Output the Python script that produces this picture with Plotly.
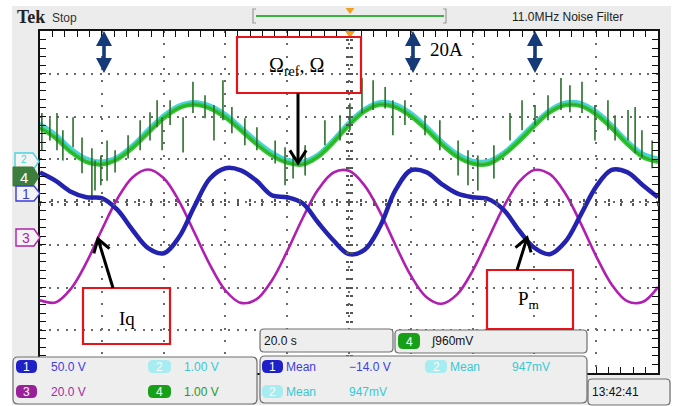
import math
import plotly.graph_objects as go

W, H = 685, 406

# ---------------- acquisition data (20 s/div, 10 div; values in screen divisions) ----------------
t_s = [0, 5, 10, 15, 20, 25, 30, 35, 40, 45, 50, 55, 60, 65, 70, 75, 80, 85, 90, 95, 100,
       105, 110, 115, 120, 125, 130, 135, 140, 145, 150, 155, 160, 165, 170, 175, 180, 185,
       190, 195, 200]

# CH4 : measured speed (Omega)
ch4_speed = [1.74, 1.50, 1.17, 0.94, 0.88, 1.00, 1.27, 1.62, 1.96, 2.20, 2.28, 2.19, 1.98,
             1.68, 1.36, 1.09, 0.92, 0.88, 1.06, 1.40, 1.80, 2.12, 2.28, 2.22, 2.01, 1.70,
             1.35, 1.06, 0.90, 0.89, 1.10, 1.42, 1.78, 2.10, 2.27, 2.25, 2.05, 1.73, 1.36,
             1.06, 0.94]

# CH2 : speed reference (Omega_ref)
ch2_speed_ref = [1.84, 1.60, 1.27, 1.03, 0.96, 1.07, 1.35, 1.71, 2.04, 2.27, 2.35, 2.27, 2.07,
                 1.77, 1.45, 1.18, 1.00, 0.96, 1.13, 1.48, 1.88, 2.19, 2.35, 2.30, 2.10, 1.79,
                 1.44, 1.15, 0.98, 0.97, 1.17, 1.50, 1.86, 2.17, 2.34, 2.33, 2.14, 1.82, 1.45,
                 1.15, 1.03]

# CH1 : q-axis current Iq
ch1_iq = [0.69, 0.50, 0.24, 0.11, 0.09, -0.18, -0.66, -1.08, -1.20, -0.82, -0.10, 0.55, 0.79,
          0.74, 0.50, 0.16, 0.11, -0.03, -0.48, -0.90, -1.22, -1.12, -0.58, 0.27, 0.74, 0.70,
          0.42, 0.20, 0.11, 0.07, -0.18, -0.66, -1.07, -1.22, -0.93, -0.30, 0.36, 0.75, 0.70,
          0.40, 0.11]

# CH3 : mechanical power Pm
ch3_pm = [-2.30, -2.35, -2.03, -1.42, -0.65, 0.07, 0.58, 0.76, 0.56, 0.02, -0.72, -1.47, -2.07,
          -2.36, -2.28, -1.84, -1.15, -0.38, 0.29, 0.69, 0.73, 0.39, -0.23, -1.00, -1.72, -2.22,
          -2.38, -2.16, -1.61, -0.87, -0.12, 0.47, 0.75, 0.65, 0.20, -0.50, -1.27, -1.93, -2.32,
          -2.34, -1.99]

# CH4 noise glitches: time [s], lower and upper excursion [div]
glitch_t = [0.6, 3.2, 5.5, 7.4, 10.7, 13.6, 16.8, 17.8, 19.7, 21.7, 24.3, 28.5, 32.4, 35.6,
            37.9, 39.5, 42.1, 46.3, 49.5, 53.4, 56.3, 59.2, 62.1, 66.3, 70.2, 76.1, 79.3,
            81.9, 85.8, 92.2, 97.1, 100.3, 104.2, 107.8, 111.7, 114.2, 118.1, 124.6, 129.4,
            135.3, 138.5, 141.7, 146.9, 152.1, 156.0, 160.2, 164.4, 168.6, 171.5, 175.4,
            179.6, 183.8, 186.1, 190.3, 192.6, 194.8, 198.1]
glitch_lo = [1.21, 1.44, 1.21, 0.97, 1.28, 0.67, 0.04, 0.27, 0.39, 0.50, 0.69, 1.02, 1.21, 1.44,
             1.75, 1.21, 1.80, 1.16, 2.08, 1.96, 1.44, 1.91, 1.61, 1.33, 1.21, 0.90, 0.39,
             0.55, 0.62, 1.33, 1.44, 1.68, 2.08, 2.15, 2.19, 1.56, 1.80, 1.56, 1.21,
             0.62, 0.39, 0.27, 0.55, 1.44, 1.68, 1.80, 1.91, 2.15, 2.10, 2.08,
             1.44, 1.68, 1.44, 1.44, 1.14, 1.04, 0.79]
glitch_hi = [2.08, 1.96, 2.08, 1.68, 1.98, 1.51, 1.26, 0.97, 1.09, 1.44, 1.21, 1.56, 1.91, 2.10,
             2.38, 1.98, 2.38, 1.98, 2.81, 2.50, 2.27, 2.85, 2.22, 1.96, 1.75, 1.44, 1.28,
             1.09, 1.33, 1.91, 2.03, 2.31, 2.90, 2.85, 2.69, 2.38, 2.38, 2.03, 1.91,
             1.44, 1.21, 1.09, 1.33, 2.08, 2.38, 2.27, 2.50, 2.90, 2.73, 2.81,
             2.27, 2.38, 2.03, 2.15, 2.22, 1.68, 1.44]

# readout texts
scale_labels = ["50.0 V", "1.00 V", "20.0 V", "1.00 V"]
timebase_label = "20.0 s"
trigger_label = "\u222B960mV"
meas_labels = ["Mean", "\u221214.0 V", "947mV", "947mV"]
clock_label = "13:42:41"
header_labels = ["Tek", "Stop", "11.0MHz Noise Filter"]

# ---------------- colours ----------------
C_BLUE = "#2323b0"
C_MAG = "#b01fb0"
C_GRN = "#2fc62f"
C_GRN_D = "#2a6f2a"
C_CYAN = "#48d3dd"
NAVY = "#163a78"
RED = "#e5131a"
NARROW = "Liberation Sans Narrow, Arial Narrow, Liberation Sans, sans-serif"
SERIF = "Liberation Serif, Times New Roman, serif"


def X(px):
    return px / W


def Y(py):
    return 1 - py / H


def poly(points, close=True, **kw):
    d = "M" + "L".join(f"{X(x):.5f},{Y(y):.5f}" for x, y in points) + ("Z" if close else "")
    return dict(type="path", xref="paper", yref="paper", path=d, **kw)


def rrect(x0, y0, x1, y1, r, **kw):
    def p(x, y):
        return f"{X(x):.5f},{Y(y):.5f}"
    d = (f"M{p(x0 + r, y0)}L{p(x1 - r, y0)}Q{p(x1, y0)} {p(x1, y0 + r)}"
         f"L{p(x1, y1 - r)}Q{p(x1, y1)} {p(x1 - r, y1)}L{p(x0 + r, y1)}"
         f"Q{p(x0, y1)} {p(x0, y1 - r)}L{p(x0, y0 + r)}Q{p(x0, y0)} {p(x0 + r, y0)}Z")
    return dict(type="path", xref="paper", yref="paper", path=d, **kw)


def rect(x0, y0, x1, y1, **kw):
    return dict(type="rect", xref="paper", yref="paper",
                x0=X(x0), x1=X(x1), y0=Y(y1), y1=Y(y0), **kw)


def seg(x0, y0, x1, y1, color, width, layer="above"):
    return dict(type="line", xref="paper", yref="paper", x0=X(x0), y0=Y(y0),
                x1=X(x1), y1=Y(y1), line=dict(color=color, width=width), layer=layer)


def text(x, y, s, size=12, color="black", family=NARROW, xanchor="left", **kw):
    return dict(x=X(x), y=Y(y), xref="paper", yref="paper", text=s, showarrow=False,
                xanchor=xanchor, yanchor="middle", font=dict(size=size, color=color, family=family), **kw)


def pointer(tail, tip, arm=15, ang=33):
    dx, dy = tail[0] - tip[0], tail[1] - tip[1]
    L = math.hypot(dx, dy)
    ux, uy = dx / L, dy / L
    out = [seg(tail[0], tail[1], tip[0], tip[1], "black", 3)]
    pts = []
    for s in (1, -1):
        a = math.radians(ang) * s
        rx = ux * math.cos(a) - uy * math.sin(a)
        ry = ux * math.sin(a) + uy * math.cos(a)
        pts.append((tip[0] + arm * rx, tip[1] + arm * ry))
    out.append(poly([pts[0], tip, pts[1]], close=False, line=dict(color="black", width=3), layer="above"))
    return out


fig = go.Figure()

# CH2 / CH4 speed traces
fig.add_trace(go.Scatter(x=t_s, y=ch2_speed_ref, mode="lines", line=dict(color=C_CYAN, width=3, shape="spline"),
                         hoverinfo="skip"))
fig.add_trace(go.Scatter(x=t_s, y=ch4_speed, mode="lines", line=dict(color=C_GRN, width=4.5, shape="spline"),
                         hoverinfo="skip"))
fig.add_trace(go.Scatter(x=t_s, y=ch4_speed, mode="lines", line=dict(color=C_GRN_D, width=1, shape="spline"),
                         opacity=0.45, hoverinfo="skip"))
gx, gy = [], []
for tt, lo, hi in zip(glitch_t, glitch_lo, glitch_hi):
    gx += [tt, tt, None]
    gy += [lo, hi, None]
fig.add_trace(go.Scatter(x=gx, y=gy, mode="lines", line=dict(color=C_GRN_D, width=1.6),
                         connectgaps=False, hoverinfo="skip"))
# CH3 and CH1
fig.add_trace(go.Scatter(x=t_s, y=ch3_pm, mode="lines", line=dict(color=C_MAG, width=2.6, shape="spline"),
                         hoverinfo="skip"))
fig.add_trace(go.Scatter(x=t_s, y=ch1_iq, mode="lines", line=dict(color=C_BLUE, width=4.5, shape="spline"),
                         hoverinfo="skip"))

# helper traces so the centre-line tick axes get drawn
for xa, ya in (("x2", "y"), ("x3", "y"), ("x", "y2"), ("x", "y3")):
    fig.add_trace(go.Scatter(x=[100], y=[0], xaxis=xa, yaxis=ya, mode="markers",
                             marker=dict(opacity=0), hoverinfo="skip"))

XDOM = [40 / W, 658 / W]
YDOM = [1 - 373 / H, 1 - 31 / H]
XC = (XDOM[0] + XDOM[1]) / 2
YC = (YDOM[0] + YDOM[1]) / 2

frame = dict(showline=True, linecolor="#111111", linewidth=2, mirror="allticks",
             ticks="inside", ticklen=6, tickwidth=1.4, tickcolor="#111111",
             showticklabels=False, zeroline=False, showgrid=True,
             gridcolor="#6a6a6a", gridwidth=2, fixedrange=True)

center_tick = dict(showline=False, showgrid=False, zeroline=False, showticklabels=False,
                   ticklen=3, tickwidth=2, tickcolor="#555555", fixedrange=True)

fig.update_layout(
    width=W, height=H, autosize=False,
    margin=dict(l=0, r=0, t=0, b=0),
    paper_bgcolor="white", plot_bgcolor="white",
    showlegend=False, hovermode=False,
    xaxis=dict(range=[0, 200], domain=XDOM, dtick=20, tick0=0, griddash="2px,10.36px",
               minor=dict(dtick=4, ticks="inside", ticklen=4, tickcolor="#111111", tickwidth=1.2, showgrid=False),
               **frame),
    yaxis=dict(range=[-4, 4], domain=YDOM, dtick=1, tick0=0, griddash="2px,6.55px",
               minor=dict(dtick=0.2, ticks="inside", ticklen=4, tickcolor="#111111", tickwidth=1.2, showgrid=False),
               **frame),
    xaxis2=dict(range=[0, 200], overlaying="x", anchor="free", position=YC, dtick=4, ticks="outside", **center_tick),
    xaxis3=dict(range=[0, 200], overlaying="x", anchor="free", position=YC, dtick=4, ticks="inside", **center_tick),
    yaxis2=dict(range=[-4, 4], overlaying="y", anchor="free", position=XC, dtick=0.2, ticks="outside", **center_tick),
    yaxis3=dict(range=[-4, 4], overlaying="y", anchor="free", position=XC, dtick=0.2, ticks="inside", **center_tick),
)

shapes = []
# instrument screen background and graticule area
shapes.append(rect(12, 6, 671, 405, fillcolor="#ececec", line=dict(width=0), layer="below"))
shapes.append(rect(40, 31, 658, 373, fillcolor="white", line=dict(width=0), layer="below"))

# record-length bar in the header
shapes.append(poly([(256, 9), (253, 9), (253, 23), (256, 23)], close=False, line=dict(color="#9a9a9a", width=1.2)))
shapes.append(poly([(443, 9), (446, 9), (446, 23), (443, 23)], close=False, line=dict(color="#9a9a9a", width=1.2)))
shapes.append(seg(256, 16, 444, 16, "#3cb043", 2))
shapes.append(poly([(345.5, 8), (354.5, 8), (350, 14)], fillcolor="#f0a020", line=dict(width=0), layer="above"))
# trigger position marker on the graticule
shapes.append(poly([(345, 31), (355, 31), (350, 38)], fillcolor="#f0a020", line=dict(width=0), layer="above"))


def pent(x0, y0, x1, y1, **kw):
    ym = (y0 + y1) / 2
    return poly([(x0, y0), (x1 - 6, y0), (x1, ym), (x1 - 6, y1), (x0, y1)], **kw)


# channel ground markers on the left edge
shapes.append(pent(15, 153, 39, 170, fillcolor="#f4f4f4", line=dict(color=C_CYAN, width=1.4), layer="above"))
shapes.append(pent(13, 167, 39, 186, fillcolor="#3d7d3d", line=dict(color="#3d7d3d", width=1), layer="above"))
shapes.append(pent(16, 186, 40, 201, fillcolor="#f4f4f4", line=dict(color="#3b3bd8", width=1.4), layer="above"))
shapes.append(pent(16, 229, 40, 246, fillcolor="#f4f4f4", line=dict(color=C_MAG, width=1.4), layer="above"))

# readout panels
panel = dict(fillcolor="#eeeeee", line=dict(color="#6f6f6f", width=1.2), layer="above")
shapes.append(rrect(13, 357, 257, 404, 5, **panel))
shapes.append(rrect(260, 329, 393, 352, 4, **panel))
shapes.append(rrect(395, 330, 587, 353, 4, **panel))
shapes.append(rrect(260, 356, 587, 403, 5, **panel))
shapes.append(rrect(588, 379, 670, 405, 4, **panel))

pill_blue, pill_cyan, pill_mag, pill_grn = "#2020c8", "#a6ecf0", "#9b1f9b", "#17a017"
pills = [
    (16, 360, 37, 373, pill_blue, "1"),
    (148, 360, 171, 373, pill_cyan, "2"),
    (16, 385, 37, 398, pill_mag, "3"),
    (148, 385, 171, 398, pill_grn, "4"),
    (398, 333, 420, 349, pill_grn, "4"),
    (262, 360, 283, 373, pill_blue, "1"),
    (425, 360, 447, 373, pill_cyan, "2"),
    (262, 385, 283, 398, pill_cyan, "2"),
]
for x0, y0, x1, y1, c, _ in pills:
    shapes.append(rrect(x0, y0, x1, y1, 5, fillcolor=c, line=dict(width=0), layer="above"))

# navy double-headed scale arrows
for cx in (104, 413, 535):
    shapes.append(poly([(cx, 31), (cx + 8, 46), (cx + 1.8, 46), (cx + 1.8, 58), (cx + 8, 58),
                        (cx, 73), (cx - 8, 58), (cx - 1.8, 58), (cx - 1.8, 46), (cx - 8, 46)],
                       fillcolor=NAVY, line=dict(width=0), layer="above"))

# red label boxes
red = dict(fillcolor="rgba(0,0,0,0)", line=dict(color=RED, width=2.2), layer="above")
shapes.append(rect(237, 37, 361, 93, **red))
shapes.append(rect(83, 288, 170, 344, **red))
shapes.append(rect(487, 270, 573, 329, **red))

# black pointers
shapes += pointer((298, 93), (298, 163))
shapes += pointer((113, 288), (98, 239))
shapes += pointer((517, 270), (527, 238))

fig.update_layout(shapes=shapes)

ann = []
ann.append(text(15, 17, "<b>" + header_labels[0] + "</b>", size=18, family=SERIF, color="#222222"))
ann.append(text(50, 18, header_labels[1], size=12, color="#333333"))
ann.append(text(510, 17, header_labels[2], size=12, color="#222222"))

# channel marker digits
ann.append(text(24, 159, "2", size=10, color=C_CYAN, xanchor="center"))
ann.append(text(24, 177, "4", size=15, color="white", xanchor="center"))
ann.append(text(26, 194, "1", size=14, color="#3b3bd8", xanchor="center"))
ann.append(text(26, 238, "3", size=14, color=C_MAG, xanchor="center"))

# pill digits
for x0, y0, x1, y1, _, d in pills:
    ann.append(text((x0 + x1) / 2, (y0 + y1) / 2 + 0.5, d, size=12, color="white", xanchor="center"))

# channel scale readouts
ann.append(text(49, 367, scale_labels[0], color="#3d3de0"))
ann.append(text(182, 367, scale_labels[1], color="#38c8d2"))
ann.append(text(49, 392, scale_labels[2], color="#a42aa4"))
ann.append(text(182, 392, scale_labels[3], color="#1f9a1f"))

ann.append(text(262, 341, timebase_label, color="#111111"))
ann.append(text(429, 341, trigger_label, color="#111111"))

ann.append(text(284, 367, meas_labels[0], color="#3d3de0"))
ann.append(text(347, 367, meas_labels[1], color="#3d3de0"))
ann.append(text(448, 367, meas_labels[0], color="#38c8d2"))
ann.append(text(510, 367, meas_labels[2], color="#38c8d2"))
ann.append(text(284, 392, meas_labels[0], color="#38c8d2"))
ann.append(text(347, 392, meas_labels[3], color="#38c8d2"))
ann.append(text(590, 392, clock_label, color="#111111"))

# figure labels
ann.append(text(296, 66, "\u03A9<sub>ref</sub>, \u03A9", size=20, family=SERIF, xanchor="center"))
ann.append(text(447, 49, "20A", size=19, family=SERIF, xanchor="center"))
ann.append(text(127, 318, "Iq", size=19, family=SERIF, xanchor="center"))
ann.append(text(529, 300, "P<sub>m</sub>", size=19, family=SERIF, xanchor="center"))

fig.update_layout(annotations=ann)

fig.write_html("out.html", config=dict(displayModeBar=False))
